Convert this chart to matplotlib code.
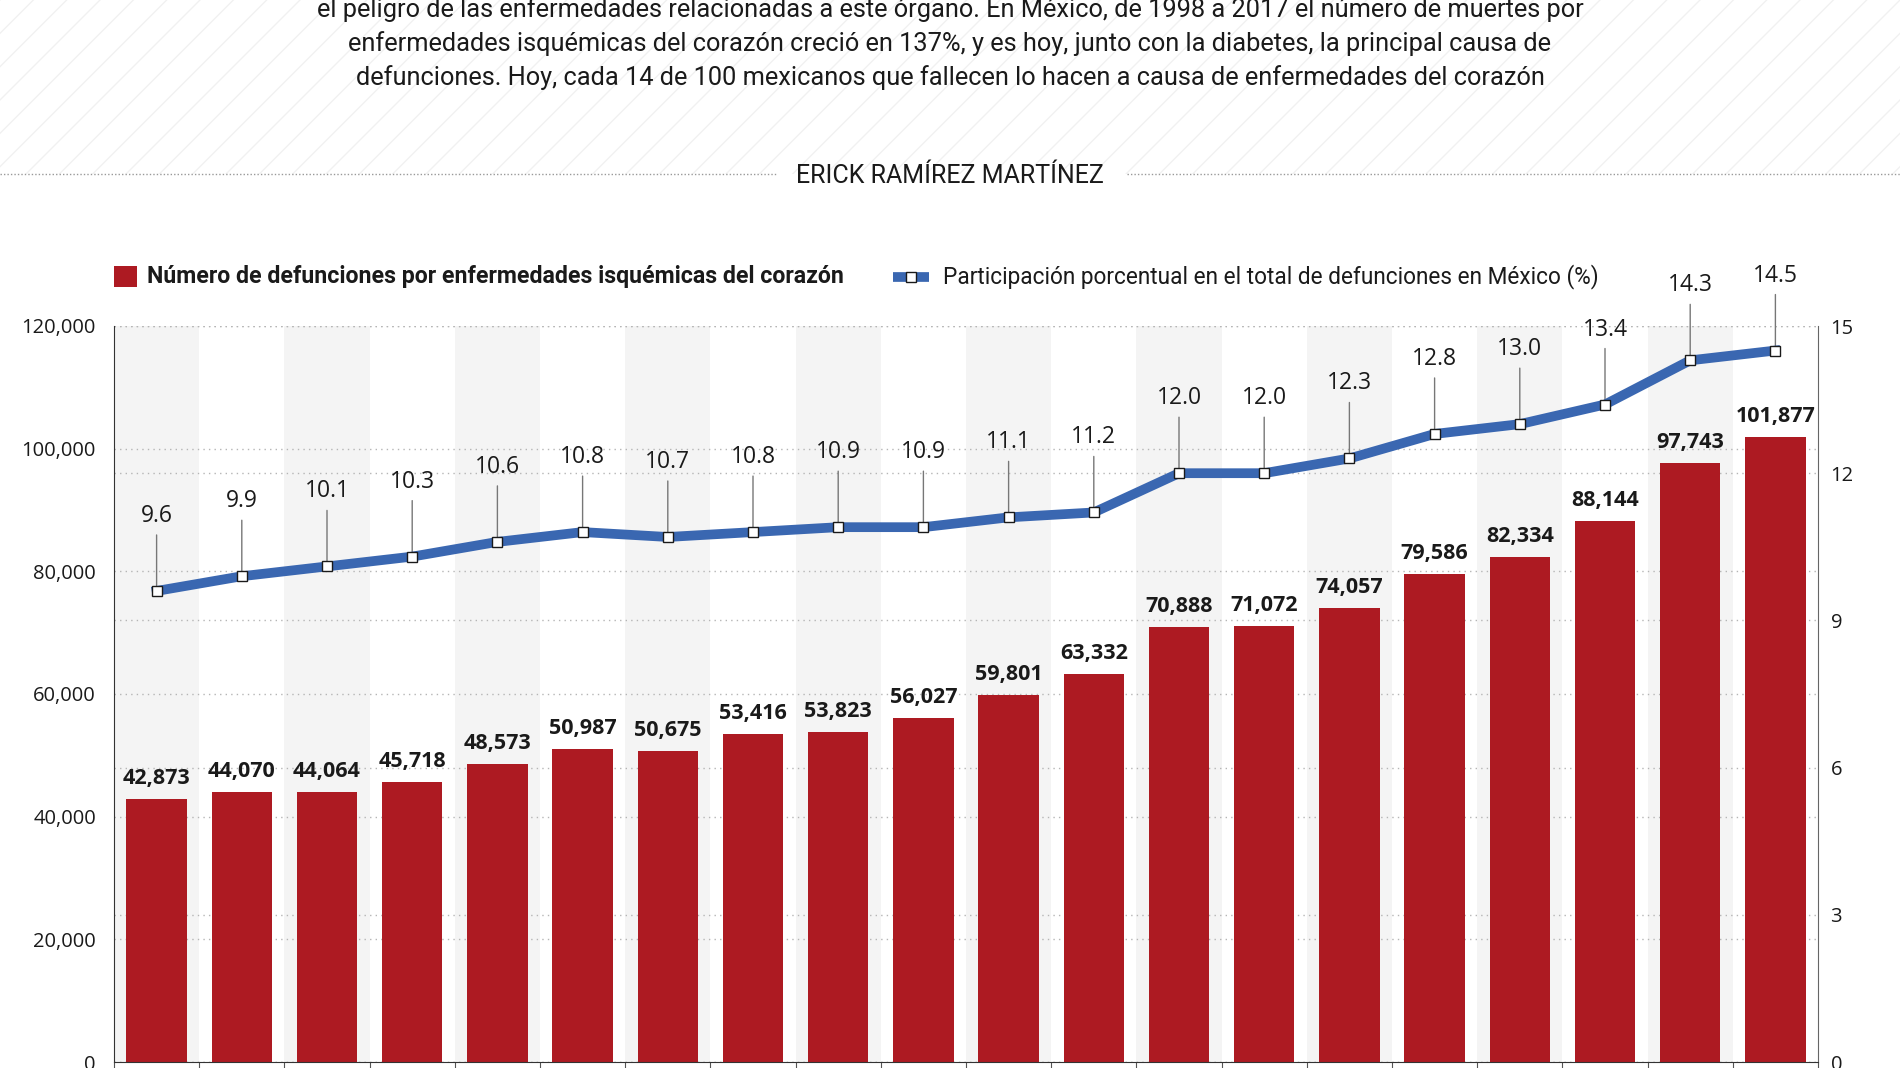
import numpy as np
import matplotlib.pyplot as plt
from matplotlib.patches import Rectangle
from matplotlib.lines import Line2D
from matplotlib.ticker import FuncFormatter

years = list(range(1998, 2018))
deaths = [42873, 44070, 44064, 45718, 48573, 50987, 50675, 53416, 53823, 56027,
          59801, 63332, 70888, 71072, 74057, 79586, 82334, 88144, 97743, 101877]
share = [9.6, 9.9, 10.1, 10.3, 10.6, 10.8, 10.7, 10.8, 10.9, 10.9,
         11.1, 11.2, 12.0, 12.0, 12.3, 12.8, 13.0, 13.4, 14.3, 14.5]

intro = [
    "el peligro de las enfermedades relacionadas a este órgano. En México, de 1998 a 2017 el número de muertes por",
    "enfermedades isquémicas del corazón creció en 137%, y es hoy, junto con la diabetes, la principal causa de",
    "defunciones. Hoy, cada 14 de 100 mexicanos que fallecen lo hacen a causa de enfermedades del corazón",
]
author = "ERICK RAMÍREZ MARTÍNEZ"
legend_bars = "Número de defunciones por enfermedades isquémicas del corazón"
legend_line = "Participación porcentual en el total de defunciones en México (%)"
left_ticks = list(range(0, 120001, 20000))
right_ticks = [0, 3, 6, 9, 12, 15]

RED = "#ad1a22"
BLUE = "#3a67b1"
cond = ["Liberation Sans Narrow", "Roboto", "DejaVu Sans"]
plt.rcParams["font.family"] = ["Open Sans", "DejaVu Sans"]
plt.rcParams["hatch.linewidth"] = 1.0

W, H = 1900, 1068
fig = plt.figure(figsize=(W / 100, H / 100), dpi=100)


def fx(px):
    return px / W


def fy(py):
    return 1 - py / H


# hatched header band
fig.patches.append(Rectangle((0, fy(174)), 1, 174 / H, transform=fig.transFigure,
                             facecolor="white", edgecolor="#f1f1f1", hatch="/",
                             lw=0, zorder=0))

for i, line in enumerate(intro):
    fig.text(0.5, fy(17 + 34 * i), line, ha="center", va="baseline",
             fontsize=18.3, family=cond, color="#1a1a1a")

# dotted rule with the author name
for x0, x1 in [(0, 776), (1127, W)]:
    fig.add_artist(Line2D([fx(x0), fx(x1)], [fy(174)] * 2, transform=fig.transFigure,
                          color="#999999", lw=1, ls=(0, (1, 1.5))))
fig.text(0.5, fy(176), author, ha="center", va="center", fontsize=18,
         family=cond, color="#1a1a1a")

# legend
fig.patches.append(Rectangle((fx(114), fy(287)), 23 / W, 21 / H,
                             transform=fig.transFigure, facecolor=RED, lw=0))
fig.text(fx(147), fy(277), legend_bars, ha="left", va="center", fontsize=16.7,
         fontweight="bold", family=cond, color="#1a1a1a")
fig.add_artist(Line2D([fx(893), fx(929)], [fy(277)] * 2, transform=fig.transFigure,
                      color=BLUE, lw=7, solid_capstyle="butt"))
fig.add_artist(Line2D([fx(911)], [fy(277)], transform=fig.transFigure, marker="s",
                      ms=7, mfc="white", mec="#1a1a1a", mew=1, ls="none"))
fig.text(fx(943), fy(277), legend_line, ha="left", va="center", fontsize=16.3,
         family=cond, color="#1a1a1a")

# axes
rect = [fx(114), 1 - 1062 / H, (1818 - 114) / W, (1062 - 326) / H]
ax = fig.add_axes(rect)
ax_pct = ax.twinx()
ax_line = ax.twinx()
ax_pct.set_zorder(1)
ax.set_zorder(2)
ax_line.set_zorder(3)
ax.patch.set_visible(False)
ax_pct.patch.set_visible(True)
ax_pct.patch.set_facecolor("white")

x = np.arange(len(years))
ax.set_xlim(-0.5, len(years) - 0.5)
ax.set_ylim(0, 120000)
ax_pct.set_ylim(0, 15)
ax_line.set_ylim(0, 15)

for i in range(0, len(years), 2):
    ax_pct.axvspan(i - 0.5, i + 0.5, color="#f4f4f4", lw=0, zorder=0)

grid_kw = dict(color="#b5b5b5", lw=1, ls=(0, (1, 3)))
ax_pct.set_yticks(right_ticks)
ax_pct.grid(axis="y", **grid_kw)
ax.set_yticks(left_ticks)
ax.grid(axis="y", **grid_kw)
ax.set_axisbelow(True)
ax.yaxis.set_major_formatter(FuncFormatter(lambda v, p: f"{v:,.0f}"))

ax.bar(x, deaths, width=0.71, color=RED, zorder=2)
for xi, v in zip(x, deaths):
    ax.annotate(f"{v:,}", (xi, v), xytext=(0, 15), textcoords="offset pixels",
                ha="center", va="baseline", fontsize=15.5, fontweight="bold",
                color="#1a1a1a")

ax_line.plot(x, share, color=BLUE, lw=7, marker="s", ms=7, mfc="white",
             mec="#1a1a1a", mew=1, zorder=3)
for xi, s in zip(x, share):
    ax_line.annotate("", xy=(xi, s), xytext=(0, 56), textcoords="offset pixels",
                     arrowprops=dict(arrowstyle="-", color="#777777", lw=1,
                                     shrinkA=0, shrinkB=0), zorder=1)
    ax_line.annotate(f"{s:.1f}", (xi, s), xytext=(0, 69), textcoords="offset pixels",
                     ha="center", va="baseline", fontsize=16.5, color="#1a1a1a")

# ticks and spines
ax.set_xticks(np.arange(-0.5, len(years), 1))
ax.set_xticklabels([])
ax.tick_params(axis="x", length=6, color="#555555")
ax.tick_params(axis="y", length=0, pad=13, labelsize=14.5, labelcolor="#1a1a1a")
ax_pct.tick_params(axis="y", length=0, pad=9, labelsize=14.5, labelcolor="#1a1a1a")
ax_line.set_yticks([])
for s in ["top", "right"]:
    ax.spines[s].set_visible(False)
ax.spines["left"].set_color("#333333")
ax.spines["bottom"].set_color("#333333")
for s in ["top", "left", "bottom"]:
    ax_pct.spines[s].set_visible(False)
ax_pct.spines["right"].set_color("#666666")
for s in ax_line.spines.values():
    s.set_visible(False)

fig.savefig("out.png", dpi=100)
